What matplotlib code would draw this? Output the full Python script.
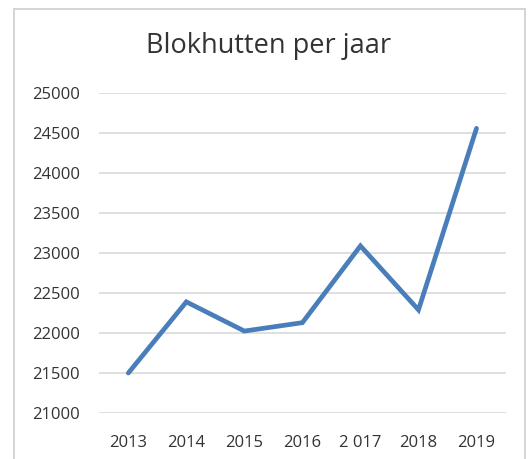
import matplotlib
matplotlib.use("Agg")
import matplotlib.pyplot as plt
from matplotlib.patches import Rectangle

# data
jaren = ["2013", "2014", "2015", "2016", "2 017", "2018", "2019"]
blokhutten = [21500, 22390, 22025, 22130, 23090, 22290, 24560]
y_ticks = [21000, 21500, 22000, 22500, 23000, 23500, 24000, 24500, 25000]

plt.rcParams["font.family"] = ["Open Sans", "DejaVu Sans"]

fig = plt.figure(figsize=(5.31, 4.59), dpi=100)
ax = fig.add_axes([0.187, 0.1002, 0.765, 0.6968])

x = list(range(len(jaren)))
ax.plot(x, blokhutten, color="#4a7ebb", linewidth=3.4, solid_capstyle="round",
        solid_joinstyle="miter", zorder=3)

ax.set_xlim(-0.5, len(jaren) - 0.5)
ax.set_ylim(21000, 25000)
ax.set_yticks(y_ticks)
ax.set_yticklabels([str(v) for v in y_ticks])
ax.set_xticks(x)
ax.set_xticklabels(jaren)

ax.grid(axis="y", color="#d9d9d9", linewidth=1.2)
ax.set_axisbelow(True)
for s in ax.spines.values():
    s.set_visible(False)
ax.tick_params(axis="both", length=0, labelsize=12, colors="#333333")
ax.tick_params(axis="y", pad=14)
ax.tick_params(axis="x", pad=16)

fig.text(0.505, 1 - 46 / 459, "Blokhutten per jaar", ha="center", va="center",
         fontsize=19.5, color="#333333")

# chart frame
fig.patches.append(Rectangle((14 / 531, -0.05), (525 - 14) / 531, 1 - 9 / 459 + 0.05,
                             transform=fig.transFigure, fill=False,
                             edgecolor="#d4d4d4", linewidth=1.4))

fig.savefig("out.png", dpi=100)
